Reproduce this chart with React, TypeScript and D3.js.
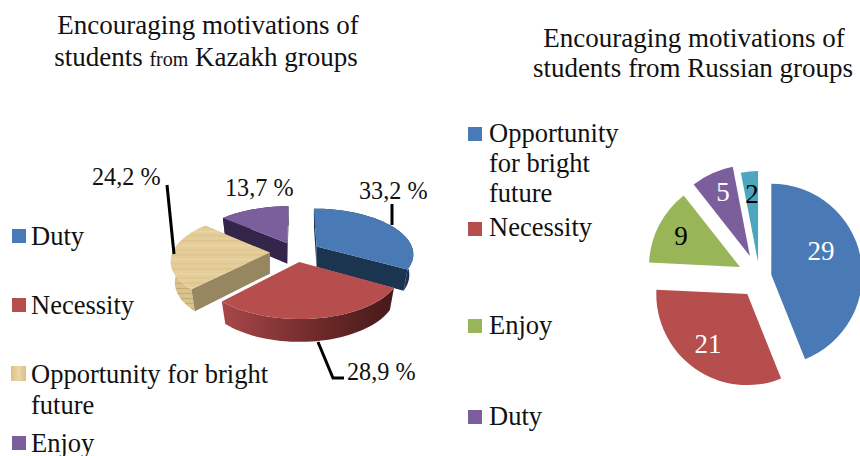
import React from "react";
import * as d3 from "d3";

const kazakhCategories = ["Duty", "Necessity", "Opportunity for bright future", "Enjoy"];
const kazakhValues = [33.2, 28.9, 24.2, 13.7];
const kazakhLabels = ["33,2 %", "28,9 %", "24,2 %", "13,7 %"];
const russianCategories = ["Opportunity for bright future", "Necessity", "Enjoy", "Duty", "Other"];
const russianValues = [29, 21, 9, 5, 2];

const W = 860, H = 456;
const BLUE = "#4a7ab5", RED = "#b54e4c", GREEN = "#98b558", PURPLE = "#7b5f9d", TEAL = "#4ba6be";
const serif = "'Liberation Serif', serif";
const TEXT = "#111";

// 3D pie projection
const cx3 = 296, cy3 = 252, rx3 = 97, ry3 = 45, k3 = 0.15, depth3 = 21, taper3 = 0.96;
const kazakhExplode = [0.25, 0.22, 0.27, 0.22];
const project = (px: number, py: number, z = 0): [number, number] => {
  const p = 1 / (1 - k3 * py);
  return [cx3 + rx3 * px * p, cy3 + ry3 * py * p + z * p];
};
const pts = (a0: number, a1: number, ox: number, oy: number, z = 0, r = 1) =>
  d3.range(0, 41).map((i) => {
    const a = a0 + ((a1 - a0) * i) / 40;
    return project(ox + r * Math.sin(a), oy - r * Math.cos(a), z);
  });
const line = d3.line<[number, number]>();

const styles3 = [
  { top: BLUE, wall: "#1b3450", cut: "#1b3450" },
  { top: RED, wall: "url(#redWall)", cut: "#7a2f2d" },
  { top: "url(#wood)", wall: "url(#woodSide)", cut: "#978760" },
  { top: PURPLE, wall: "#33264a", cut: "#33264a" },
];

const kazakhArcs = d3.pie<number>().sort(null)(kazakhValues);
const drawOrder = [3, 0, 2, 1];

const russianArcs = d3.pie<number>().sort(null)(russianValues);
const arc2 = d3.arc<d3.PieArcDatum<number>>().innerRadius(0).outerRadius(91);
const cx2 = 759.5, cy2 = 277;
const russianExplode = [12, 21, 22, 23, 15];
const colors2 = [BLUE, RED, GREEN, PURPLE, TEAL];

const russianLabels = [
  { x: 821, y: 260, c: "#fff" },
  { x: 708, y: 353, c: "#fff" },
  { x: 681, y: 245, c: "#000" },
  { x: 723, y: 201, c: "#fff" },
  { x: 752, y: 203, c: "#000" },
];

export default function App() {
  return (
    <svg width={W} height={H} viewBox={`0 0 ${W} ${H}`}
      style={{ position: "absolute", left: 0, top: 0, background: "#fff" }} fontFamily={serif}>
      <defs>
        <linearGradient id="redWall" gradientUnits="userSpaceOnUse" x1="222" x2="395" y1="0" y2="0">
          <stop offset="0" stopColor="#a9474a" />
          <stop offset="0.55" stopColor="#6e2a29" />
          <stop offset="1" stopColor="#45191a" />
        </linearGradient>
        <pattern id="wood" patternUnits="userSpaceOnUse" width="70" height="14">
          <rect width="70" height="14" fill="#e4cd99" />
          <rect y="2" width="70" height="2" fill="#dfc68f" />
          <rect y="7" width="70" height="1.5" fill="#e9d4a6" />
          <rect y="11" width="70" height="1.5" fill="#dfc791" />
        </pattern>
        <pattern id="woodSide" patternUnits="userSpaceOnUse" width="70" height="5">
          <rect width="70" height="5" fill="#d9c28c" />
          <rect y="3" width="70" height="1" fill="#c2ab78" />
        </pattern>
        <linearGradient id="woodLegend" x1="0" x2="1" y1="0" y2="0">
          <stop offset="0" stopColor="#dcc088" />
          <stop offset="0.5" stopColor="#ecd6a8" />
          <stop offset="1" stopColor="#dcc088" />
        </linearGradient>
      </defs>

      {/* Left title */}
      <text x={208} y={34} fontSize={27} textAnchor="middle" fill={TEXT}>Encouraging motivations of</text>
      <text x={206} y={66} fontSize={27} textAnchor="middle" fill={TEXT}>
        students <tspan fontSize={20}>from</tspan> Kazakh groups
      </text>

      {/* Left 3D pie */}
      {drawOrder.map((i) => {
        const d = kazakhArcs[i];
        const s = styles3[i];
        const mid = (d.startAngle + d.endAngle) / 2;
        const ox = Math.sin(mid) * kazakhExplode[i], oy = -Math.cos(mid) * kazakhExplode[i];
        const outerTop = pts(d.startAngle, d.endAngle, ox, oy);
        const outerBot = pts(d.startAngle, d.endAngle, ox, oy, depth3, taper3);
        const apexT = project(ox, oy);
        const apexB = project(ox, oy, depth3);
        const wall = [...outerTop, ...outerBot.slice().reverse()];
        const cutA = [apexT, outerTop[0], outerBot[0], apexB];
        const cutB = [apexT, outerTop[40], outerBot[40], apexB];
        return (
          <g key={i}>
            <path d={line(wall) + "Z"} fill={s.wall} />
            <path d={line(cutB) + "Z"} fill={i === 1 ? "none" : s.cut} />
            <path d={line(cutA) + "Z"} fill={i === 2 || i === 3 || i === 0 ? s.cut : "none"} />
            <path d={line([apexT, ...outerTop]) + "Z"} fill={s.top} />
          </g>
        );
      })}

      {/* Leader lines */}
      <g fill="none" stroke="#000" strokeWidth={3}>
        <path d="M392,204 L392,225" />
        <path d="M318,342 L333,378 L344,378" />
        <path d="M167,185 L174,254" />
      </g>
      <g fontSize={24.2} fill={TEXT}>
        <text x={359} y={199}>{kazakhLabels[0]}</text>
        <text x={347} y={380}>{kazakhLabels[1]}</text>
        <text x={92} y={185}>{kazakhLabels[2]}</text>
        <text x={225} y={196}>{kazakhLabels[3]}</text>
      </g>

      {/* Left legend */}
      <g fontSize={26.5} fill={TEXT}>
        <rect x={12} y={229} width={14} height={14} fill={BLUE} />
        <text x={31} y={245}>{kazakhCategories[0]}</text>
        <rect x={12} y={298} width={14} height={14} fill={RED} />
        <text x={31} y={314}>{kazakhCategories[1]}</text>
        <rect x={11} y={366} width={15} height={15} fill="url(#woodLegend)" />
        <text x={31} y={383}>Opportunity for bright</text>
        <text x={31} y={414}>future</text>
        <rect x={12} y={436} width={14} height={14} fill={PURPLE} />
        <text x={31} y={452}>{kazakhCategories[3]}</text>
      </g>

      {/* Right title */}
      <text x={694} y={47} fontSize={27} textAnchor="middle" fill={TEXT}>Encouraging motivations of</text>
      <text x={693} y={77} fontSize={27} textAnchor="middle" fill={TEXT}>students from Russian groups</text>

      {/* Right exploded pie */}
      {russianArcs.map((d, i) => {
        const mid = (d.startAngle + d.endAngle) / 2;
        const x = cx2 + Math.sin(mid) * russianExplode[i];
        const y = cy2 - Math.cos(mid) * russianExplode[i];
        return <path key={i} transform={`translate(${x},${y})`} d={arc2(d) ?? ""} fill={colors2[i]} />;
      })}
      <g fontSize={27} textAnchor="middle">
        {russianLabels.map((l, i) => (
          <text key={i} x={l.x} y={l.y} fill={l.c}>{russianValues[i]}</text>
        ))}
      </g>

      {/* Right legend */}
      <g fontSize={26.5} fill={TEXT}>
        <rect x={468} y={127} width={14} height={14} fill={BLUE} />
        <text x={489} y={142}>Opportunity</text>
        <text x={489} y={172}>for bright</text>
        <text x={489} y={202}>future</text>
        <rect x={468} y={222} width={14} height={14} fill={RED} />
        <text x={489} y={236}>{russianCategories[1]}</text>
        <rect x={468} y={319} width={14} height={14} fill={GREEN} />
        <text x={489} y={334}>{russianCategories[2]}</text>
        <rect x={468} y={410} width={14} height={14} fill={PURPLE} />
        <text x={489} y={425}>{russianCategories[3]}</text>
      </g>
    </svg>
  );
}
